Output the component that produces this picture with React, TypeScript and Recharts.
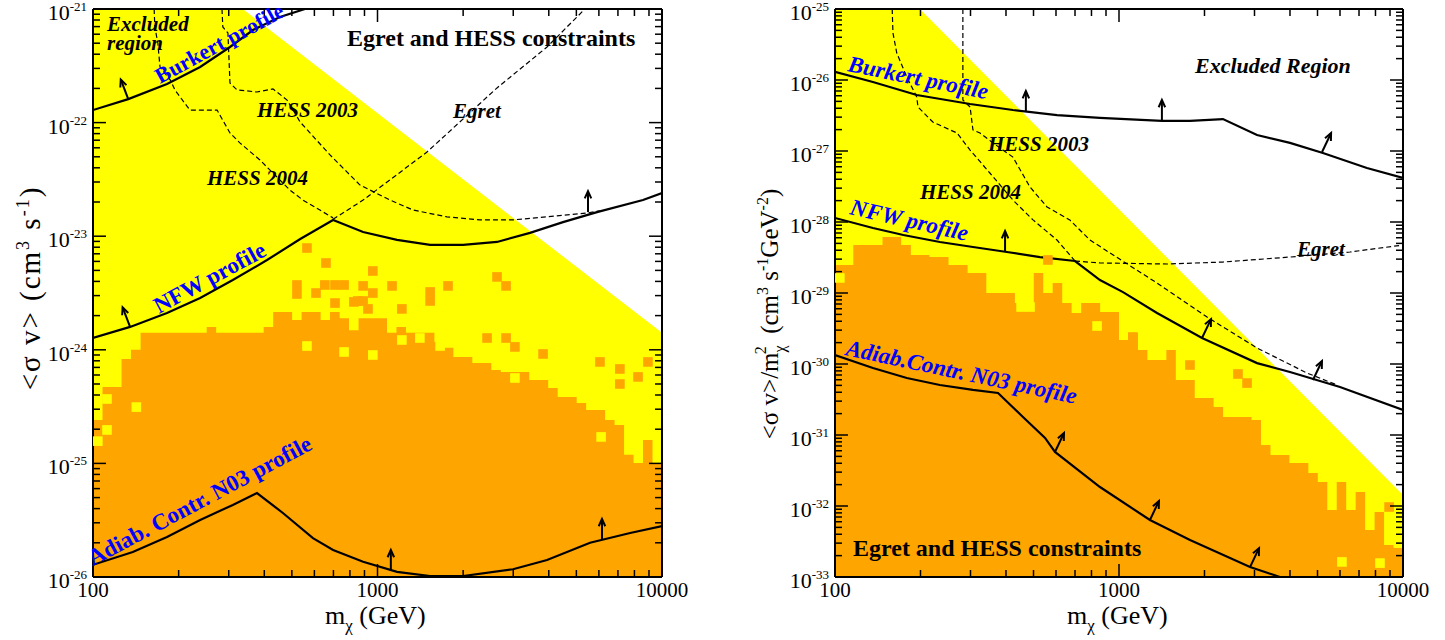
import React from 'react';
import { ComposedChart, XAxis, YAxis, Area, Line, Scatter } from 'recharts';

const FONT = "'Liberation Serif', 'Times New Roman', Times, serif";
const YELLOW = '#ffff00';
const ORANGE = '#ffa500';
const BLUE = '#0000ff';

// ---------- axes ----------
const X_TICKS = [100, 200, 300, 400, 500, 600, 700, 800, 900, 1000, 2000, 3000, 4000, 5000, 6000, 7000, 8000, 9000, 10000];
const L_Y_EXPONENTS = [-26, -25, -24, -23, -22, -21];
const R_Y_EXPONENTS = [-33, -32, -31, -30, -29, -28, -27, -26, -25];

// ---------- left panel (sigma v) ----------
const L_YELLOW = [[100, 1e-21], [336, 1e-21], [10000, 1.41e-24]];
const L_BODY = [[100, 2.41e-25], [108, 4.71e-25], [126, 8.3e-25], [136, 1.0e-24], [147, 1.41e-24], [251, 1.59e-24], [271, 1.41e-24], [398, 1.59e-24], [430, 2.15e-24], [501, 1.83e-24], [541, 2.15e-24], [631, 1.83e-24], [681, 2.15e-24], [736, 1.9e-24], [794, 1.49e-24], [858, 1.9e-24], [1080, 1.41e-24], [1166, 1.59e-24], [1259, 1.41e-24], [1585, 1.17e-24], [1711, 1.04e-24], [1848, 8.65e-25], [2154, 7.66e-25], [2512, 6.64e-25], [2712, 6.38e-25], [3415, 5.42e-25], [3981, 4.61e-25], [4299, 3.85e-25], [5012, 3.4e-25], [5412, 2.95e-25], [6310, 2.41e-25], [6813, 2.18e-25], [7356, 1.19e-25], [7943, 1.01e-25], [8577, 1.61e-25], [9261, 1.01e-25], [10000, 1.01e-25]];
const L_CELLS = [[565, 7.87e-24], [659, 5.81e-24], [521, 3.72e-24], [521, 3.1e-24], [608, 3.16e-24], [653, 3.72e-24], [709, 3.72e-24], [763, 3.72e-24], [709, 2.58e-24], [826, 2.64e-24], [963, 4.94e-24], [963, 3.16e-24], [890, 2.69e-24], [1125, 3.65e-24], [1218, 2.29e-24], [1770, 3.65e-24], [2631, 4.38e-24], [2831, 3.65e-24], [1531, 3.23e-24], [1531, 2.69e-24], [853, 2.69e-24], [926, 2.29e-24], [2427, 1.27e-24], [2831, 1.27e-24], [3041, 1.06e-24], [3819, 9.19e-25], [6053, 7.82e-25], [7112, 6.78e-25], [8925, 7.82e-25], [8237, 5.77e-25], [7112, 5.0e-25], [890, 3.65e-24]];
const L_HOLES = [[104, 1.57e-25], [112, 1.97e-25], [112, 3.69e-25], [142, 3.13e-25], [763, 9.57e-25], [963, 9.0e-25], [1218, 1.22e-24], [1409, 1.27e-24], [1660, 1.08e-24], [3581, 9.57e-25], [3041, 5.65e-25], [4488, 4.52e-25], [6109, 1.71e-25], [565, 1.08e-24]];
const L_BURKERT = [[100, 1.29e-22], [133, 1.61e-22], [182, 2.19e-22], [238, 3.09e-22], [303, 4.63e-22], [365, 6.53e-22], [454, 8.5e-22], [556, 1e-21]];
const L_NFW = [[100, 1.27e-24], [135, 1.59e-24], [182, 2.11e-24], [238, 2.86e-24], [310, 4.11e-24], [409, 6.17e-24], [535, 9.44e-24], [698, 1.39e-23], [890, 1.09e-23], [1171, 9.27e-24], [1531, 8.38e-24], [2000, 8.38e-24], [2631, 8.9e-24], [3436, 1.07e-23], [4488, 1.33e-23], [5910, 1.63e-23], [8575, 2.08e-23], [10000, 2.4e-23]];
const L_ADIAB = [[100, 1.28e-26], [138, 1.66e-26], [182, 2.25e-26], [238, 3.18e-26], [310, 4.31e-26], [377, 5.48e-26], [465, 3.66e-26], [593, 2.2e-26], [698, 1.73e-26], [890, 1.36e-26], [1171, 1.11e-26], [1531, 1.02e-26], [2000, 1.02e-26], [2994, 1.17e-26], [3944, 1.41e-26], [5585, 2.0e-26], [7727, 2.44e-26], [10000, 2.81e-26]];
const L_HESS03 = [[284, 1e-21], [286, 6.95e-22], [298, 6.15e-22], [303, 2.23e-22], [321, 1.94e-22], [377, 1.86e-22], [429, 1.98e-22], [481, 1.58e-22], [535, 1.01e-22], [681, 5.19e-23], [868, 2.82e-23], [1107, 2.08e-23], [1333, 1.7e-23], [1754, 1.48e-23], [2291, 1.39e-23], [2970, 1.39e-23], [3944, 1.48e-23], [5445, 1.6e-23], [6051, 1.67e-23]];
const L_HESS04 = [[164, 1e-21], [165, 6.95e-22], [169, 5.02e-22], [172, 3.08e-22], [187, 2.37e-22], [194, 1.94e-22], [219, 1.29e-22], [273, 1.29e-22], [279, 1.17e-22], [303, 8.1e-23], [329, 6.6e-23], [386, 4.69e-23], [429, 3.6e-23], [492, 2.55e-23], [547, 2.08e-23], [698, 1.45e-23]];
const L_EGRET = [[698, 1.41e-23], [890, 2.08e-23], [1493, 5.51e-23], [2631, 2.02e-22], [3944, 4.63e-22], [5358, 1e-21]];
const L_ARROWS_UP = [[1114, 1.13e-26], [6152, 2.12e-26], [5494, 1.63e-23]];
const L_ARROWS_UPLEFT = [[133, 1.61e-22], [135, 1.59e-24]];

// ---------- right panel (sigma v / m^2) ----------
const R_YELLOW = [[100, 1e-25], [199, 1e-25], [10000, 1.43e-32]];
const R_BODY = [[100, 2.48e-29], [116, 4.74e-29], [147, 6.15e-29], [171, 4.74e-29], [185, 3.43e-29], [215, 3.21e-29], [251, 2.48e-29], [293, 1.91e-29], [341, 1.0e-29], [430, 7.23e-30], [501, 1.91e-29], [541, 1.0e-29], [584, 1.38e-29], [631, 7.23e-30], [681, 5.23e-30], [736, 7.23e-30], [858, 5.39e-30], [1000, 2.18e-30], [1080, 2.73e-30], [1166, 1.57e-30], [1259, 1.14e-30], [1468, 1.57e-30], [1585, 5.96e-31], [1848, 3.32e-31], [2154, 2.48e-31], [2326, 1.79e-31], [2929, 1.63e-31], [3162, 7.23e-32], [3415, 5.23e-32], [3981, 4.03e-32], [4642, 2.92e-32], [5012, 2.18e-32], [5412, 8.79e-33], [5843, 2.18e-32], [6310, 8.79e-33], [6813, 1.57e-32], [7356, 4.59e-33], [7943, 8.22e-33], [8577, 2.83e-33], [9261, 2.56e-33], [10000, 2.56e-33]];
const R_CELLS = [[562, 2.92e-29], [1119, 2.4e-30], [1778, 9.68e-31], [2624, 7.23e-31], [2824, 5.39e-31], [8933, 9.68e-33]];
const R_HOLES = [[104, 1.63e-29], [452, 6.35e-30], [486, 6.35e-30], [837, 3.43e-30], [8298, 1.57e-33], [6095, 1.63e-33]];
const R_BURKERT = [[100, 1.3e-26], [136, 9.37e-27], [194, 6.15e-27], [299, 4.59e-27], [423, 3.78e-27], [605, 3.21e-27], [857, 2.92e-27], [1416, 2.65e-27], [1778, 2.65e-27], [2323, 2.82e-27], [3062, 1.68e-27], [4000, 1.3e-27], [5224, 9.37e-28], [7464, 5.77e-28], [10000, 4.17e-28]];
const R_NFW = [[100, 1.14e-28], [136, 8.22e-29], [174, 6.56e-29], [234, 5.23e-29], [306, 4.45e-29], [403, 3.78e-29], [527, 3.21e-29], [700, 2.82e-29], [857, 1.52e-29], [1033, 1.03e-29], [1361, 5.23e-30], [1960, 2.32e-30], [3062, 1.03e-30], [4000, 7.7e-31], [5999, 4.74e-31], [10000, 2.25e-31]];
const R_ADIAB = [[100, 1.34e-30], [136, 8.79e-31], [179, 6.35e-31], [234, 5.06e-31], [306, 4.31e-31], [375, 3.91e-31], [459, 1.79e-31], [549, 9.08e-32], [595, 5.77e-32], [857, 1.85e-32], [1285, 6.35e-33], [1778, 3.32e-33], [2893, 1.38e-33], [3686, 1e-33]];
const R_HESS03 = [[282, 1e-25], [282, 5.23e-27], [299, 4.17e-27], [306, 1.98e-27], [324, 1.79e-27], [360, 1.3e-27], [423, 8.22e-28], [486, 3.11e-28], [558, 1.63e-28], [671, 1.07e-28], [790, 5.57e-29], [1361, 1.38e-29], [2042, 4.59e-30], [3062, 1.68e-30], [4592, 7.46e-31], [5861, 5.06e-31]];
const R_HESS04 = [[159, 1e-25], [160, 4.59e-26], [165, 2.4e-26], [179, 1.1e-26], [194, 5.77e-27], [196, 4.17e-27], [221, 2.56e-27], [269, 1.79e-27], [299, 1.03e-27], [351, 4.9e-28], [423, 2.04e-28], [498, 1.07e-28], [605, 5.57e-29], [700, 2.82e-29]];
const R_EGRET = [[700, 2.82e-29], [857, 2.65e-29], [1475, 2.56e-29], [2323, 2.73e-29], [4000, 3.21e-29], [6501, 3.78e-29], [10000, 4.74e-29]];
const R_ARROWS_UP = [[470, 3.54e-27], [1416, 2.65e-27], [397, 3.78e-29]];
const R_ARROWS_UPRIGHT = [[5188, 9.68e-28], [1960, 2.32e-30], [4819, 5.96e-31], [595, 5.77e-32], [1285, 6.35e-33], [2893, 1.38e-33]];

// ---------- helpers ----------
type P = { m: number; s: number };
const pts = (a: number[][]): P[] => a.map(([m, s]) => ({ m, s }));
const logTicks = (exps: number[]) => {
  const t: number[] = [];
  exps.forEach((e, i) => {
    const n = i === exps.length - 1 ? 1 : 9;
    for (let d = 1; d <= n; d++) t.push(d * Math.pow(10, e));
  });
  return t;
};
const isMajor = (v: number) => Math.abs(Math.log10(v) - Math.round(Math.log10(v))) < 1e-6;

const makeTick = (side: 'bottom' | 'top' | 'left' | 'right') => (props: any) => {
  const { x, y, payload } = props;
  const v = payload.value as number;
  const major = isMajor(v);
  const len = major ? 13 : 7;
  let x2 = x;
  let y2 = y;
  if (side === 'bottom') y2 = y - len;
  if (side === 'top') y2 = y + len;
  if (side === 'left') x2 = x + len;
  if (side === 'right') x2 = x - len;
  return (
    <g>
      <line x1={x} y1={y} x2={x2} y2={y2} stroke="#000" strokeWidth={1.5} />
      {major && side === 'bottom' && (
        <text x={x} y={y + 20} textAnchor="middle" fontFamily={FONT} fontSize={21} fill="#000">
          {String(Math.round(v))}
        </text>
      )}
      {major && side === 'left' && (
        <text x={x - 6} y={y + 11} textAnchor="end" fontFamily={FONT} fontSize={22} fill="#000">
          10
          <tspan dy={-9} fontSize={13}>{String(Math.round(Math.log10(v)))}</tspan>
        </text>
      )}
    </g>
  );
};

const square = (fill: string) => (p: any) => (
  <rect x={p.cx - 4.8} y={p.cy - 4.8} width={9.6} height={9.6} fill={fill} stroke="none" />
);

const arrow = (ux: number, uy: number) => (p: any) => {
  const n = Math.hypot(ux, uy);
  const dx = ux / n;
  const dy = uy / n;
  const L = 21;
  const tx = p.cx + dx * L;
  const ty = p.cy + dy * L;
  const ang = Math.atan2(dy, dx);
  const h = 8;
  const a = 0.42;
  const h1x = tx - h * Math.cos(ang - a);
  const h1y = ty - h * Math.sin(ang - a);
  const h2x = tx - h * Math.cos(ang + a);
  const h2y = ty - h * Math.sin(ang + a);
  return (
    <g>
      <line x1={p.cx} y1={p.cy} x2={tx} y2={ty} stroke="#000" strokeWidth={2} />
      <polyline points={`${h1x},${h1y} ${tx},${ty} ${h2x},${h2y}`} fill="none" stroke="#000" strokeWidth={2} />
    </g>
  );
};

type PanelProps = {
  width: number;
  margin: { top: number; left: number; right: number; bottom: number };
  exps: number[];
  yellow: number[][];
  body: number[][];
  holes: number[][];
  cells: number[][];
  dashed: number[][][];
  solid: number[][][];
  arrowsUp: number[][];
  arrowsTilt: number[][];
  tilt: [number, number];
};

const Panel = (p: PanelProps) => {
  const yDomain = [Math.pow(10, p.exps[0]), Math.pow(10, p.exps[p.exps.length - 1])];
  const yTicks = logTicks(p.exps);
  const axisLine = { stroke: '#000', strokeWidth: 2 };
  return (
    <ComposedChart width={p.width} height={640} margin={p.margin}>
      <Area xAxisId="b" yAxisId="l" data={pts(p.yellow)} dataKey="s" type="linear" fill={YELLOW} fillOpacity={1} stroke="none" baseValue={yDomain[0]} isAnimationActive={false} dot={false} activeDot={false} />
      <Area xAxisId="b" yAxisId="l" data={pts(p.body)} dataKey="s" type="stepAfter" fill={ORANGE} fillOpacity={1} stroke="none" baseValue={yDomain[0]} isAnimationActive={false} dot={false} activeDot={false} />
      <Scatter xAxisId="b" yAxisId="l" data={pts(p.holes)} dataKey="s" shape={square(YELLOW)} isAnimationActive={false} />
      <Scatter xAxisId="b" yAxisId="l" data={pts(p.cells)} dataKey="s" shape={square(ORANGE)} isAnimationActive={false} />
      {p.dashed.map((d, i) => (
        <Line key={'d' + i} xAxisId="b" yAxisId="l" data={pts(d)} dataKey="s" type="linear" stroke="#000" strokeWidth={1.2} strokeDasharray="5 3" dot={false} activeDot={false} isAnimationActive={false} />
      ))}
      {p.solid.map((d, i) => (
        <Line key={'s' + i} xAxisId="b" yAxisId="l" data={pts(d)} dataKey="s" type="linear" stroke="#000" strokeWidth={2.2} dot={false} activeDot={false} isAnimationActive={false} />
      ))}
      <Scatter xAxisId="b" yAxisId="l" data={pts(p.arrowsUp)} dataKey="s" shape={arrow(0, -1)} isAnimationActive={false} />
      <Scatter xAxisId="b" yAxisId="l" data={pts(p.arrowsTilt)} dataKey="s" shape={arrow(p.tilt[0], p.tilt[1])} isAnimationActive={false} />
      <XAxis xAxisId="b" dataKey="m" type="number" scale="log" domain={[100, 10000]} allowDataOverflow ticks={X_TICKS} interval={0} tickSize={0} tickMargin={0} height={30} tickLine={false} axisLine={axisLine} tick={makeTick('bottom')} orientation="bottom" />
      <XAxis xAxisId="t" dataKey="m" type="number" scale="log" domain={[100, 10000]} allowDataOverflow ticks={X_TICKS} interval={0} tickSize={0} tickMargin={0} height={1} tickLine={false} axisLine={axisLine} tick={makeTick('top')} orientation="top" />
      <YAxis yAxisId="l" dataKey="s" type="number" scale="log" domain={yDomain} allowDataOverflow ticks={yTicks} interval={0} tickSize={0} tickMargin={0} width={60} tickLine={false} axisLine={axisLine} tick={makeTick('left')} orientation="left" />
      <YAxis yAxisId="r" dataKey="s" type="number" scale="log" domain={yDomain} allowDataOverflow ticks={yTicks} interval={0} tickSize={0} tickMargin={0} width={1} tickLine={false} axisLine={axisLine} tick={makeTick('right')} orientation="right" />
    </ComposedChart>
  );
};

const T = (props: any) => <text fontFamily={FONT} fill="#000" {...props} />;

const Overlay = () => (
  <svg width={1445} height={640} style={{ position: 'absolute', left: 0, top: 0, pointerEvents: 'none' }}>
    {/* left panel annotations */}
    <T x={107} y={31} fontSize={21} fontWeight="bold" fontStyle="italic">Excluded</T>
    <T x={107} y={50} fontSize={21} fontWeight="bold" fontStyle="italic">region</T>
    <T x={347} y={46} fontSize={24} fontWeight="bold">Egret and HESS constraints</T>
    <T x={257} y={117} fontSize={21} fontWeight="bold" fontStyle="italic">HESS 2003</T>
    <T x={207} y={185} fontSize={21} fontWeight="bold" fontStyle="italic">HESS 2004</T>
    <T x={453} y={118} fontSize={21} fontWeight="bold" fontStyle="italic">Egret</T>
    <T x={160} y={84} fontSize={22} fontWeight="bold" fill={BLUE} transform="rotate(-28.5 160 84)">Burkert profile</T>
    <T x={159} y={314} fontSize={23} fontWeight="bold" fill={BLUE} transform="rotate(-28.5 159 314)">NFW profile</T>
    <T x={93} y={566} fontSize={23} fontWeight="bold" fill={BLUE} transform="rotate(-28 93 566)">Adiab. Contr. N03 profile</T>
    {/* left axis titles */}
    <T x={325} y={624} fontSize={26}>m<tspan dy={7} fontSize={17}>χ</tspan><tspan dy={-7}> (GeV)</tspan></T>
    <T x={40} y={288} fontSize={29} letterSpacing={2} textAnchor="middle" transform="rotate(-90 40 288)">
      {'<σ v> (cm'}<tspan dy={-11} fontSize={18}>3</tspan><tspan dy={11}> s</tspan><tspan dy={-11} fontSize={18}>-1</tspan><tspan dy={11}>)</tspan>
    </T>
    {/* right panel annotations */}
    <T x={1195} y={73} fontSize={22} fontWeight="bold" fontStyle="italic">Excluded Region</T>
    <T x={988} y={151} fontSize={21} fontWeight="bold" fontStyle="italic">HESS 2003</T>
    <T x={920} y={199} fontSize={21} fontWeight="bold" fontStyle="italic">HESS 2004</T>
    <T x={1297} y={256} fontSize={21} fontWeight="bold" fontStyle="italic">Egret</T>
    <T x={853} y={556} fontSize={24} fontWeight="bold">Egret and HESS constraints</T>
    <T x={847} y={71} fontSize={23} fontWeight="bold" fontStyle="italic" fill={BLUE} transform="rotate(11.5 847 71)">Burkert profile</T>
    <T x={849} y={214} fontSize={23} fontWeight="bold" fontStyle="italic" fill={BLUE} transform="rotate(13 849 214)">NFW profile</T>
    <T x={845} y={355} fontSize={23} fontWeight="bold" fontStyle="italic" fill={BLUE} transform="rotate(12 845 355)">Adiab.Contr. N03 profile</T>
    {/* right axis titles */}
    <T x={1067} y={624} fontSize={26}>m<tspan dy={7} fontSize={17}>χ</tspan><tspan dy={-7}> (GeV)</tspan></T>
    <T x={778} y={314} fontSize={25} textAnchor="middle" transform="rotate(-90 778 314)">
      {'<σ v>/m'}<tspan dy={7} fontSize={16}>χ</tspan><tspan dx={-9} dy={-19} fontSize={16}>2</tspan><tspan dy={12}>{'\u00a0\u00a0(cm'}</tspan><tspan dy={-10} fontSize={16}>3</tspan><tspan dy={10}> s</tspan><tspan dy={-10} fontSize={16}>-1</tspan><tspan dy={10}>GeV</tspan><tspan dy={-10} fontSize={16}>-2</tspan><tspan dy={10}>)</tspan>
    </T>
  </svg>
);

export default function App() {
  return (
    <div style={{ position: 'absolute', left: 0, top: 0, width: 1445, height: 640, background: '#fff', overflow: 'hidden' }}>
      <div style={{ position: 'absolute', left: 0, top: 0 }}>
        <Panel
          width={700}
          margin={{ top: 8, left: 33, right: 37, bottom: 33 }}
          exps={L_Y_EXPONENTS}
          yellow={L_YELLOW}
          body={L_BODY}
          holes={L_HOLES}
          cells={L_CELLS}
          dashed={[L_HESS03, L_HESS04, L_EGRET]}
          solid={[L_BURKERT, L_NFW, L_ADIAB]}
          arrowsUp={L_ARROWS_UP}
          arrowsTilt={L_ARROWS_UPLEFT}
          tilt={[-8, -21]}
        />
      </div>
      <div style={{ position: 'absolute', left: 740, top: 0 }}>
        <Panel
          width={705}
          margin={{ top: 8, left: 35, right: 41, bottom: 33 }}
          exps={R_Y_EXPONENTS}
          yellow={R_YELLOW}
          body={R_BODY}
          holes={R_HOLES}
          cells={R_CELLS}
          dashed={[R_HESS03, R_HESS04, R_EGRET]}
          solid={[R_BURKERT, R_NFW, R_ADIAB]}
          arrowsUp={R_ARROWS_UP}
          arrowsTilt={R_ARROWS_UPRIGHT}
          tilt={[10, -21]}
        />
      </div>
      <Overlay />
    </div>
  );
}
